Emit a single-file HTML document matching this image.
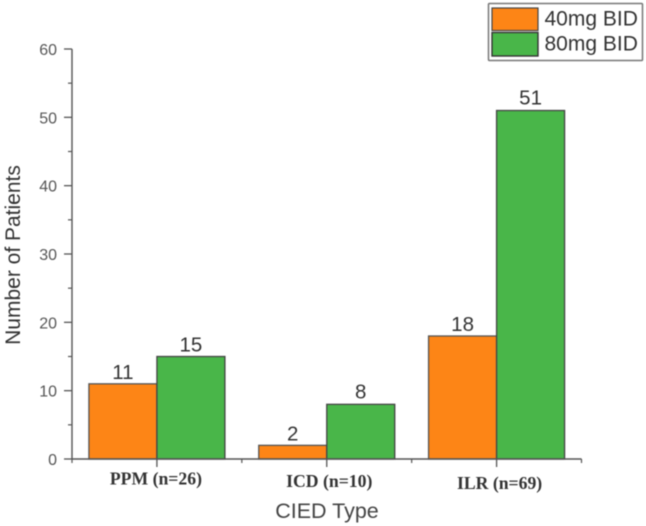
<!DOCTYPE html>
<html>
<head>
<meta charset="utf-8">
<style>
html,body{margin:0;padding:0;background:#fff;}
svg{display:block;}
text{font-family:"Liberation Sans",sans-serif;}
</style>
</head>
<body>
<svg id="chart" xmlns="http://www.w3.org/2000/svg" width="646" height="526" viewBox="0 0 646 526">
<g style="filter:blur(0.5px)">
<g id="plot"></g>
<g>
<rect x="488.5" y="3.5" width="154" height="57" fill="#fff" stroke="#777" stroke-width="1.5" rx="1"/>
<rect x="492" y="8" width="46" height="22.5" fill="#fd8516" stroke="#444" stroke-width="1.2"/>
<rect x="492" y="32.5" width="46" height="23.5" fill="#49b649" stroke="#333" stroke-width="1.4"/>
<text x="544.5" y="25.5" font-size="21" fill="#333">40mg BID</text>
<text x="544.5" y="50.5" font-size="21" fill="#333">80mg BID</text>
</g>
<text transform="translate(20,255) rotate(-90)" text-anchor="middle" font-size="21" fill="#333">Number of Patients</text>
<text x="327" y="518" text-anchor="middle" font-size="21.5" fill="#444">CIED Type</text>
</g>
</svg>
<script>
const categories = ["PPM (n=26)", "ICD (n=10)", "ILR (n=69)"];
const series40mg = [11, 2, 18];
const series80mg = [15, 8, 51];
const yTickLabels = [0, 10, 20, 30, 40, 50, 60];
const yMinorTicks = [5, 15, 25, 35, 45, 55];

const NS = "http://www.w3.org/2000/svg";
const plot = document.getElementById("plot");
const plotLeft = 72, plotRight = 581.5, plotBottom = 459, plotTop = 49, yMax = 60;
const catW = (plotRight - plotLeft) / categories.length;
const barW = 68;
const yScale = v => plotBottom - (v / yMax) * (plotBottom - plotTop);
const xCenter = i => plotLeft + catW * (i + 0.5);

function make(tag, attrs, text) {
  const el = document.createElementNS(NS, tag);
  for (const k in attrs) el.setAttribute(k, attrs[k]);
  if (text !== undefined) el.textContent = text;
  plot.appendChild(el);
  return el;
}

const axisColor = "#555";

categories.forEach((c, i) => {
  const cx = xCenter(i);
  const h1 = series40mg[i], h2 = series80mg[i];
  const b1 = make("rect", {x: cx - barW, y: yScale(h1), width: barW, height: plotBottom - yScale(h1), fill: "#fd8516", stroke: "#555", "stroke-width": 1.3});
  
  
  const b2 = make("rect", {x: cx, y: yScale(h2), width: barW, height: plotBottom - yScale(h2), fill: "#49b649", stroke: "#444", "stroke-width": 1.3});
  
  
  const l1 = make("text", {x: cx - barW / 2, y: yScale(h1) - 5, "text-anchor": "middle", "font-size": 20.5, fill: "#333"}, h1);
  
  
  const l2 = make("text", {x: cx + barW / 2, y: yScale(h2) - (i === 0 ? 5 : 6), "text-anchor": "middle", "font-size": 20.5, fill: "#333"}, h2);
  
  
  const catDx = i === 0 ? -1 : i === 1 ? 2.5 : 3;
  const catBase = i === 0 ? 484.5 : i === 1 ? 487 : 489;
  const cat = make("text", {x: cx + catDx, y: catBase, "text-anchor": "middle", "font-size": 17.7, "font-weight": "bold", fill: "#333"}, c);
  cat.style.fontFamily = '"Liberation Serif", serif';
  
  
  const t = make("line", {x1: cx, x2: cx, y1: plotBottom, y2: plotBottom + 8, stroke: axisColor, "stroke-width": 1.3});
  
  
});

for (let i = 0; i <= categories.length; i++) {
  const x = plotLeft + catW * i;
  const t = make("line", {x1: x, x2: x, y1: plotBottom, y2: plotBottom + 4, stroke: axisColor, "stroke-width": 1.2});
  
  
}

const xAxis = make("line", {x1: plotLeft, x2: plotRight, y1: plotBottom, y2: plotBottom, stroke: axisColor, "stroke-width": 1.4});


const yAxis = make("line", {x1: plotLeft, x2: plotLeft, y1: plotTop, y2: plotBottom, stroke: axisColor, "stroke-width": 1.4});



yTickLabels.forEach(v => {
  const y = yScale(v);
  const t = make("line", {x1: plotLeft - 8, x2: plotLeft, y1: y, y2: y, stroke: axisColor, "stroke-width": 1.3});
  
  
  const l = make("text", {x: plotLeft - 15, y: y + 6, "text-anchor": "end", "font-size": 16, fill: "#555"}, v);
  
  
});
yMinorTicks.forEach(v => {
  const y = yScale(v);
  const t = make("line", {x1: plotLeft - 4, x2: plotLeft, y1: y, y2: y, stroke: axisColor, "stroke-width": 1.2});
  
  
});
</script>
</body>
</html>
